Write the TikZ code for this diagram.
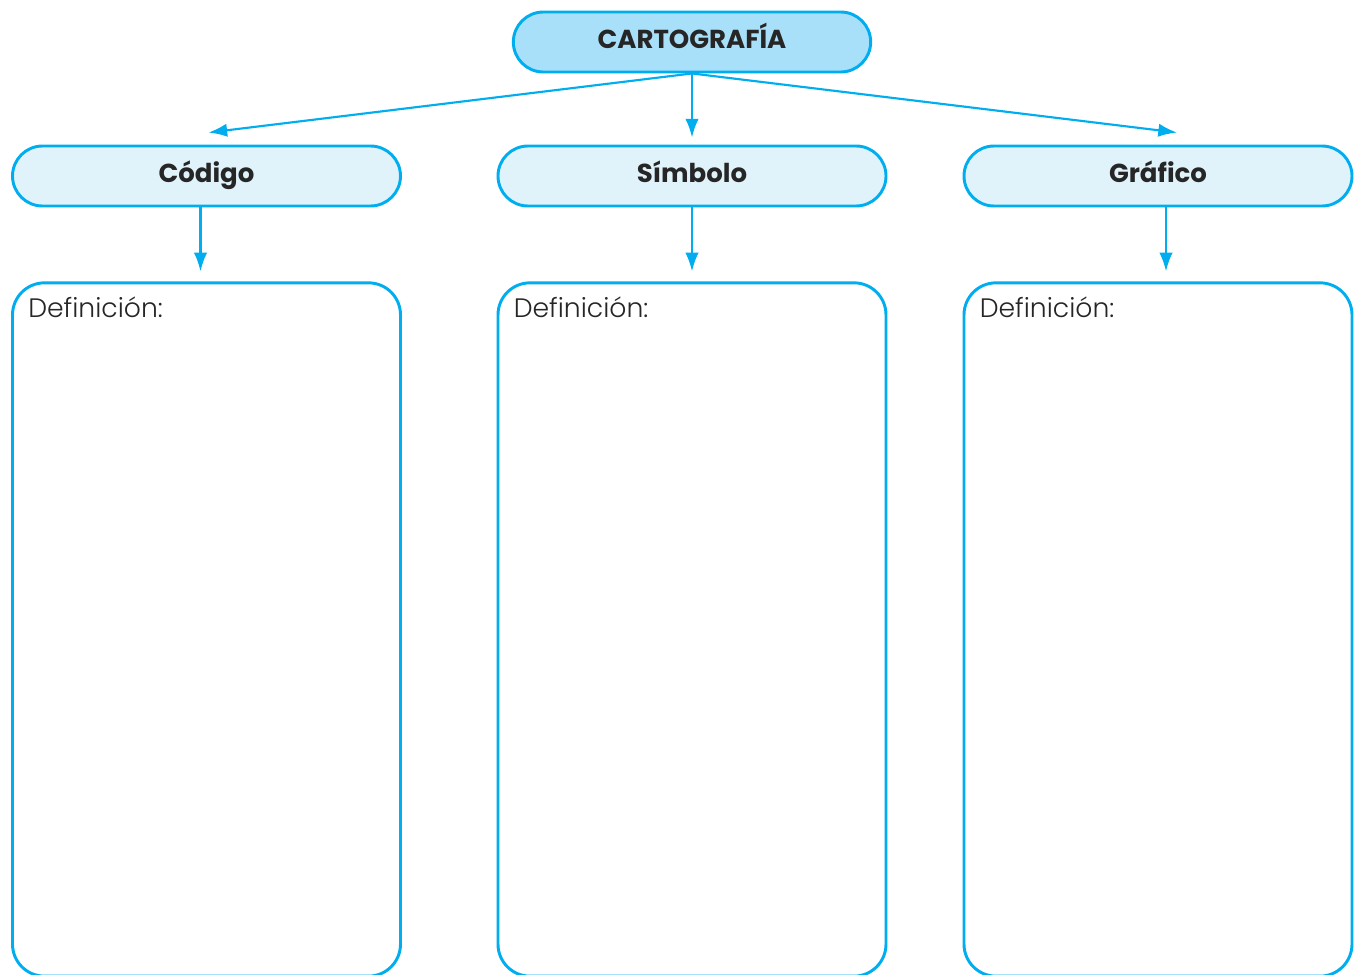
\documentclass[tikz,border=0pt]{standalone}
\usepackage{fontspec}
\setmainfont{Poppins}
\newfontfamily\lightfont{Poppins Light}
\usepackage{xcolor}
\usetikzlibrary{arrows.meta, positioning}

\definecolor{mapline}{HTML}{00AEEF}
\definecolor{mainfill}{HTML}{A8E0F9}
\definecolor{catfill}{HTML}{E0F3FB}

\begin{document}
\begin{tikzpicture}[
    x=0.75pt, y=-0.75pt,
    mainbox/.style={rectangle, draw=mapline, line width=2.2pt, fill=mainfill, minimum width=268pt, minimum height=45pt, rounded corners=22.5pt, text height=14pt, text depth=5pt, font=\bfseries\fontsize{19.5}{22}\selectfont, text=black!85},
    catbox/.style={rectangle, draw=mapline, line width=2.2pt, fill=catfill, minimum width=291pt, minimum height=45pt, rounded corners=22.5pt, text height=14pt, text depth=5pt, font=\bfseries\fontsize{19.5}{22}\selectfont, text=black!85},
    defbox/.style={rectangle, draw=mapline, line width=2.2pt, fill=white, minimum width=291pt, minimum height=520pt, rounded corners=24pt},
    deftext/.style={inner sep=0pt, font=\lightfont\fontsize{20}{22}\selectfont, text=black!85},
    arr/.style={-{Latex[length=14pt, width=10pt]}, draw=mapline, line width=1.6pt}
]
    \useasboundingbox (0,0) rectangle (1354,975);

    % Main topic
    \node (carto) [mainbox] at (692,42) {CARTOGRAFÍA};

    % Categories
    \node (cod) [catbox] at (206.5,176) {Código};
    \node (sim) [catbox] at (692,176) {Símbolo};
    \node (gra) [catbox] at (1158,176) {Gráfico};

    % Definition boxes
    \node (def1) [defbox] at (206.5,629.5) {};
    \node (def2) [defbox] at (692,629.5) {};
    \node (def3) [defbox] at (1158,629.5) {};

    \node (txt1) [deftext, anchor=base west] at ([shift={(17,36)}]def1.north west) {Definición:};
    \node (txt2) [deftext, anchor=base west] at ([shift={(17,36)}]def2.north west) {Definición:};
    \node (txt3) [deftext, anchor=base west] at ([shift={(17,36)}]def3.north west) {Definición:};

    % Arrows
    \draw[arr] (carto.south) -- ([shift={(2,-12)}]cod.north);
    \draw[arr] (carto.south) -- ([shift={(0,-7)}]sim.north);
    \draw[arr] (carto.south) -- ([shift={(19,-12)}]gra.north);

    \draw[arr, shorten >=7.5pt] ([shift={(-6,0)}]cod.south) -- ([shift={(-6,0)}]def1.north);
    \draw[arr, shorten >=7.5pt] (sim.south) -- (def2.north);
    \draw[arr, shorten >=7.5pt] ([shift={(8,0)}]gra.south) -- ([shift={(8,0)}]def3.north);

\end{tikzpicture}
\end{document}
